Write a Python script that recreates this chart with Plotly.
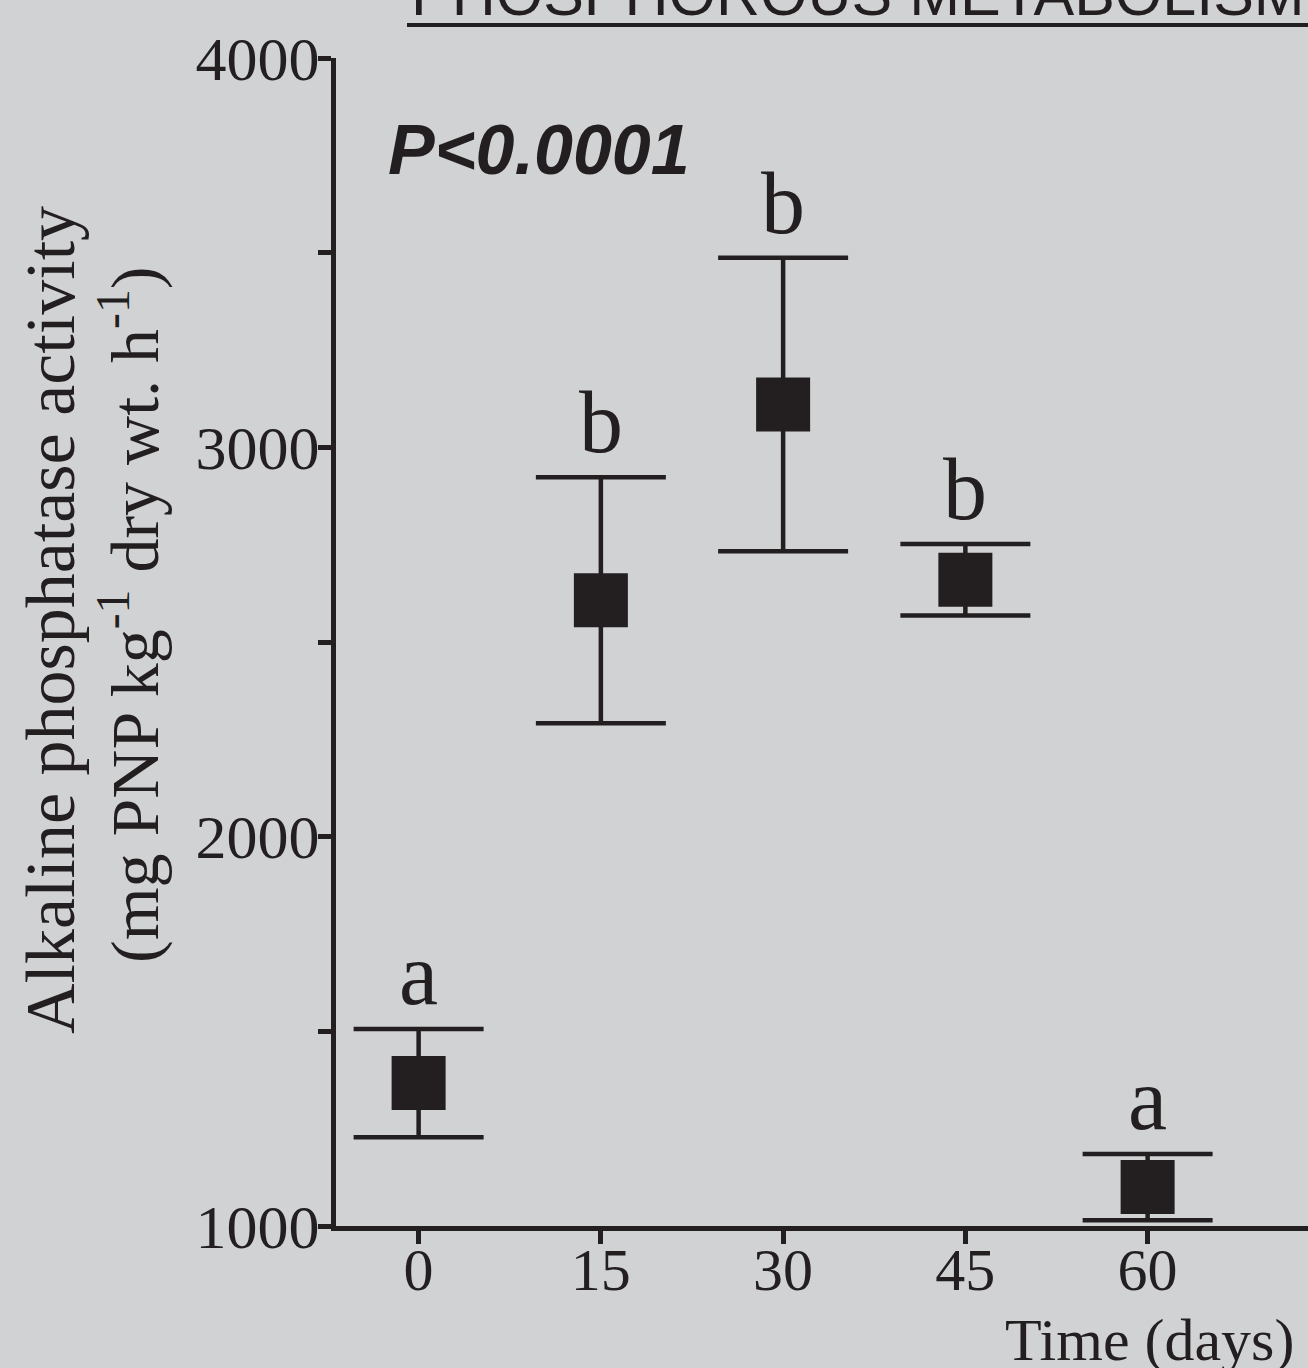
import plotly.graph_objects as go

# ---- data ----
days = [0, 15, 30, 45, 60]
activity = [1367, 2607, 3110, 2660, 1100]
sem = [139, 316, 377, 92, 85]
groups = ["a", "b", "b", "b", "a"]
y_ticks = [1000, 2000, 3000, 4000]
x_ticks = [0, 15, 30, 45, 60]

INK = "#231f20"
BG = "#d1d2d4"
SERIF = "Liberation Serif, Times New Roman, serif"
SANS = "Liberation Sans, Arial, sans-serif"

L = 336  # left margin (px)
W = 1308 - L
H = 1226 - 58

fig = go.Figure()
fig.add_trace(go.Scatter(
    x=days, y=activity, mode="markers",
    marker=dict(symbol="square", size=54, color=INK, line=dict(width=0)),
    error_y=dict(type="data", array=sem, visible=True, color=INK,
                 thickness=4.5, width=65),
    showlegend=False, hoverinfo="skip",
))

# significance letters
for d, m, e, g in zip(days, activity, sem, groups):
    fig.add_annotation(x=d, y=m + e, text=g, showarrow=False,
                       xanchor="center", yanchor="bottom", yshift=4,
                       font=dict(family=SERIF, size=88, color=INK))

# P value
fig.add_annotation(xref="paper", yref="paper", x=(539 - L) / W, y=(1226 - 150) / H,
                   text="<b><i>P<0.0001</i></b>", showarrow=False,
                   xanchor="center", yanchor="middle",
                   font=dict(family=SANS, size=70, color=INK))

# title (cut off at top)
fig.add_annotation(xref="paper", yref="paper", x=(409 - L) / W, y=(1226 - 30) / H,
                   text="PHOSPHOROUS METABOLISM", showarrow=False,
                   xanchor="left", yanchor="bottom",
                   font=dict(family=SANS, size=61, color=INK))
fig.add_shape(type="line", xref="paper", yref="paper",
              x0=(407 - L) / W, x1=1.0, y0=(1226 - 25) / H, y1=(1226 - 25) / H,
              line=dict(color=INK, width=4))

# y-axis title (two lines)
fig.add_annotation(xref="paper", yref="paper", x=(50 - L) / W, y=(1226 - 620) / H,
                   text="Alkaline phosphatase activity", textangle=-90, showarrow=False,
                   xanchor="center", yanchor="middle",
                   font=dict(family=SERIF, size=70, color=INK))
fig.add_annotation(xref="paper", yref="paper", x=(130 - L) / W, y=(1226 - 615) / H,
                   text="(mg PNP kg<sup>-1</sup> dry wt. h<sup>-1</sup>)", textangle=-90,
                   showarrow=False, xanchor="center", yanchor="middle",
                   font=dict(family=SERIF, size=68, color=INK))

# x-axis title
fig.add_annotation(xref="paper", yref="paper", x=(1149 - L) / W, y=(1226 - 1340) / H,
                   text="Time (days)", showarrow=False,
                   xanchor="center", yanchor="middle",
                   font=dict(family=SERIF, size=60, color=INK))

fig.update_layout(
    width=1308, height=1368,
    margin=dict(l=L, r=0, t=58, b=142),
    paper_bgcolor=BG, plot_bgcolor=BG,
    xaxis=dict(range=[-6.8, 73.2], tickvals=x_ticks, ticktext=[str(t) for t in x_ticks],
               showline=True, linecolor=INK, linewidth=5, showgrid=False, zeroline=False,
               ticks="outside", ticklen=13, tickwidth=4.5, tickcolor=INK,
               ticklabelstandoff=-26,
               tickfont=dict(family=SERIF, size=60, color=INK)),
    yaxis=dict(range=[1000, 4000], tickvals=y_ticks, ticktext=[str(t) for t in y_ticks],
               showline=True, linecolor=INK, linewidth=5, showgrid=False, zeroline=False,
               ticks="outside", ticklen=13, tickwidth=5, tickcolor=INK,
               ticklabelstandoff=-14,
               minor=dict(tickvals=[1500, 2500, 3500], ticks="outside", ticklen=13,
                          tickwidth=5, tickcolor=INK, showgrid=False),
               tickfont=dict(family=SERIF, size=62, color=INK)),
)

fig.write_html("out.html")
